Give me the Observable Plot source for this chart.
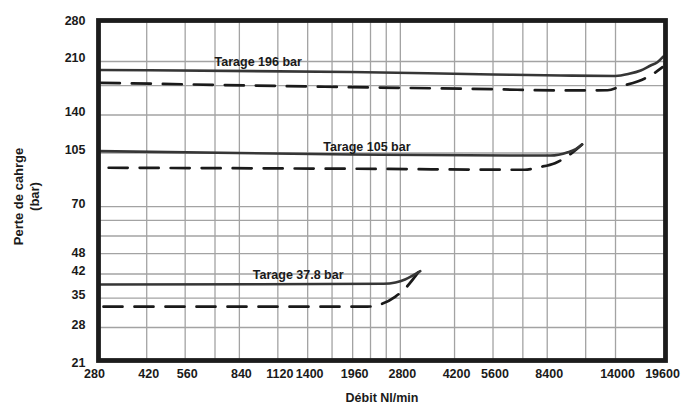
<!DOCTYPE html>
<html>
<head>
<meta charset="utf-8">
<script src="https://cdn.jsdelivr.net/npm/d3@7"></script>
<script src="https://cdn.jsdelivr.net/npm/@observablehq/plot@0.6"></script>
<style>
  html, body { margin: 0; padding: 0; background: #fff; }
  #chart svg { display: block; }
</style>
</head>
<body>
<div id="chart"></div>
<script>
// Tick labels and gridlines (Débit Nl/min, Perte de charge bar)
const xTickValues = [280, 420, 560, 840, 1120, 1400, 1960, 2800, 4200, 5600, 8400, 14000, 19600];
const yTickValues = [21, 28, 35, 42, 48, 70, 105, 140, 210, 280];
const xGridValues = [420, 560, 700, 840, 1120, 1400, 1680, 1960, 2240, 2520, 2800, 4200, 5600, 7000, 8400, 11200, 14000];
const yGridValues = [28, 35, 42, 49, 56, 63, 70, 105, 140, 175, 210];

// Series: [flow Nl/min, pressure bar]
const solid196 = [[293, 196.9], [1930, 194.0], [5600, 190.3], [9300, 188.9], [14000, 188.2], [15500, 191.3], [16900, 196.2], [18200, 203.7], [19150, 208.9], [20000, 218.0]];
const dashed196 = [[298, 178.7], [1930, 172.9], [5600, 170.2], [9300, 168.6], [13200, 168.9], [14500, 173.8], [16500, 180.5], [18200, 188.9], [19900, 201.1]];
const solid105 = [[293, 106.5], [1930, 103.8], [6400, 103.0], [8600, 103.0], [9800, 105.6], [10400, 108.2], [10900, 112.0]];
const dashed105 = [[316, 93.9], [1930, 93.2], [7100, 92.5], [7900, 94.3], [8900, 97.2], [9850, 103.0], [10900, 112.0]];
const solid378 = [[293, 38.8], [2470, 39.0], [2700, 39.4], [2900, 40.3], [3250, 42.9]];
const dashed378 = [[304, 32.8], [2190, 32.8], [2400, 33.3], [2700, 35.4], [2900, 37.6], [3200, 42.5]];

// Curve annotations
const labelTexts = ["Tarage 196 bar", "Tarage 105 bar", "Tarage 37.8 bar"];
const labelFlow = [967, 2180, 1304];
const labelLoss = [209, 109.5, 41.8];

const xTitle = "Débit Nl/min";
const yTitle = "Perte de cahrge\n(bar)";

const annotations = labelTexts.map((t, i) => ({text: t, flow: labelFlow[i], loss: labelLoss[i]}));

const font = "'Liberation Sans', Arial, Helvetica, sans-serif";
const txt = {fontWeight: "bold", fontSize: 12.5, fill: "#1a1a1a", fontFamily: font};
const solidStyle = {stroke: "#363636", strokeWidth: 2.6, curve: "monotone-x"};
const dashStyle = {stroke: "#1a1a1a", strokeWidth: 2.7, strokeDasharray: "19,12", curve: "monotone-x"};
const gx = d => d[0], gy = d => d[1];

const chart = Plot.plot({
  width: 699,
  height: 411,
  marginLeft: 98,
  marginRight: 34,
  marginTop: 20,
  marginBottom: 51,
  style: {fontFamily: font, background: "#fff", overflow: "visible"},
  x: {type: "log", domain: [280, 19600], insetLeft: -6, insetRight: 5, axis: null},
  y: {type: "log", domain: [21, 280], insetTop: 3, insetBottom: -5, axis: null},
  marks: [
    Plot.ruleX(xGridValues, {x: d => d, stroke: "#a3a3a3", strokeWidth: 1.3}),
    Plot.ruleY(yGridValues, {y: d => d, stroke: "#a3a3a3", strokeWidth: 1.3}),
    Plot.line(dashed196, {x: gx, y: gy, ...dashStyle}),
    Plot.line(dashed105, {x: gx, y: gy, ...dashStyle}),
    Plot.line(dashed378, {x: gx, y: gy, ...dashStyle}),
    Plot.line(solid196, {x: gx, y: gy, ...solidStyle}),
    Plot.line(solid105, {x: gx, y: gy, ...solidStyle}),
    Plot.line(solid378, {x: gx, y: gy, ...solidStyle}),
    Plot.frame({stroke: "#1c1c1c", strokeWidth: 4.8}),
    Plot.text(annotations, {x: "flow", y: "loss", text: "text", ...txt}),
    Plot.text(xTickValues, {x: d => d, frameAnchor: "bottom", dy: 17, dx: 2, textAnchor: "middle", text: d => String(d), ...txt}),
    Plot.text(yTickValues, {y: d => d, frameAnchor: "left", dx: -13, dy: -3, textAnchor: "end", text: d => String(d), ...txt}),
    Plot.text([xTitle], {frameAnchor: "bottom", dy: 41, textAnchor: "middle", text: d => d, ...txt}),
    Plot.text([yTitle], {frameAnchor: "left", dx: -72.5, dy: 6, rotate: -90, textAnchor: "middle", lineHeight: 1.2, text: d => d, ...txt, fontSize: 13})
  ]
});
document.getElementById("chart").append(chart);
</script>
</body>
</html>
